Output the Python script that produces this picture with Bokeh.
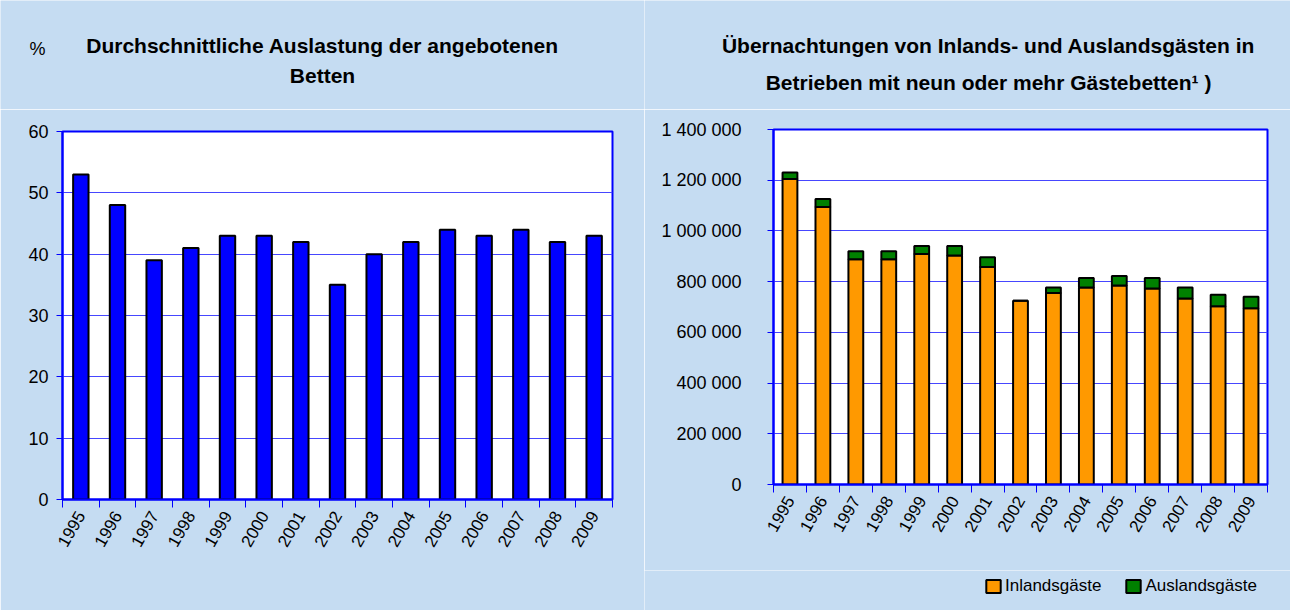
from math import radians
from bokeh.plotting import figure
from bokeh.models import (Range1d, LinearAxis, FixedTicker, Grid, ColumnDataSource, Label)
from bokeh.layouts import row, column
from bokeh.embed import file_html
from bokeh.resources import INLINE

# ---------------- data ----------------
years = [str(y) for y in range(1995, 2010)]
auslastung = [53, 48, 39, 41, 43, 43, 42, 35, 40, 42, 44, 43, 44, 42, 43]
inland = [1205000, 1094000, 888000, 888000, 909000, 903000, 858000, 725000,
          755000, 777000, 785000, 773000, 734000, 703000, 695000]
ausland = [25000, 32000, 32000, 32000, 32000, 38000, 38000, 0,
           22000, 37000, 37000, 41000, 43000, 45000, 45000]
left_ticks = [0, 10, 20, 30, 40, 50, 60]
right_ticks = [0, 200000, 400000, 600000, 800000, 1000000, 1200000, 1400000]
right_tick_labels = ["0", "200 000", "400 000", "600 000", "800 000",
                     "1 000 000", "1 200 000", "1 400 000"]
series_names = ["Inlandsgäste", "Auslandsgäste"]
left_title = ["Durchschnittliche Auslastung der angebotenen", "Betten"]
right_title = ["Übernachtungen von Inlands- und Auslandsgästen in",
               "Betrieben mit neun oder mehr Gästebetten¹ )"]
unit_label = "%"

# category slots: year i occupies [i, i+1] on the x scale
slot_centers = [i + 0.5 for i in range(len(years))]
slot_edges = list(range(len(years) + 1))

# ---------------- style ----------------
BG = "#C5DCF2"
BLUE = "#0000FF"
GRID = "#4646FF"
ORANGE = "#FF9900"
GREEN = "#008000"
FONT = "Liberation Sans"


def no_align(p):
    if "frame_align" in p.properties():
        p.frame_align = False


def hide_default_grids(p):
    for g in p.center:
        if isinstance(g, Grid):
            g.visible = False


def make_fig(width, height, y_range, bl, br, bt, bb):
    p = figure(width=width, height=height, x_range=Range1d(0, len(years)), y_range=y_range,
               x_axis_location=None, y_axis_location=None, toolbar_location=None,
               output_backend="svg", min_border_left=bl, min_border_right=br,
               min_border_top=bt, min_border_bottom=bb)
    no_align(p)
    hide_default_grids(p)
    p.border_fill_color = BG
    p.background_fill_color = "white"
    p.outline_line_color = BLUE
    p.outline_line_width = 2
    xa = LinearAxis(ticker=FixedTicker(ticks=slot_centers, minor_ticks=slot_edges),
                    major_label_overrides={c: y for c, y in zip(slot_centers, years)},
                    axis_line_color=BLUE, axis_line_width=2,
                    major_tick_line_color=None, major_tick_out=8, major_tick_in=0,
                    minor_tick_line_color=BLUE, minor_tick_out=8, minor_tick_in=0,
                    major_label_orientation=radians(60),
                    major_label_text_font=FONT, major_label_text_font_size="17px",
                    major_label_text_color="black", major_label_standoff=5)
    p.add_layout(xa, "below")
    return p


def make_strip(width, height):
    s = figure(width=width, height=height, x_range=Range1d(0, 1), y_range=Range1d(0, 1),
               x_axis_location=None, y_axis_location=None, toolbar_location=None,
               output_backend="svg", min_border=0)
    no_align(s)
    hide_default_grids(s)
    s.border_fill_color = BG
    s.background_fill_color = BG
    s.outline_line_color = None
    return s


def style_yaxis(ax, standoff):
    ax.major_tick_out = 6
    ax.major_tick_in = 0
    ax.minor_tick_line_color = None
    ax.axis_line_color = BLUE
    ax.axis_line_width = 2
    ax.major_tick_line_color = BLUE
    ax.major_label_text_font = FONT
    ax.major_label_text_font_size = "18px"
    ax.major_label_text_color = "black"
    ax.major_label_standoff = standoff


def title_label(x, y, txt, size="21px", bold=True):
    return Label(x=x, y=y, x_units="screen", y_units="screen", text=txt,
                 text_font=FONT, text_font_size=size,
                 text_font_style="bold" if bold else "normal",
                 text_align="center", text_baseline="middle", text_color="black")


# ---------------- left chart ----------------
t1 = make_strip(644, 109)
t1.add_layout(title_label(322, 64, left_title[0]))
t1.add_layout(title_label(322, 34, left_title[1]))
t1.add_layout(title_label(37, 61, unit_label, size="18px", bold=False))

p1 = make_fig(644, 501, Range1d(0, 60), 62, 32, 22, 111)
ya1 = LinearAxis(ticker=FixedTicker(ticks=left_ticks))
style_yaxis(ya1, 8)
p1.add_layout(ya1, "left")
p1.add_layout(Grid(dimension=1, ticker=FixedTicker(ticks=left_ticks), grid_line_color=GRID,
                   grid_line_width=1))
p1.vbar(x=slot_centers, top=auslastung, width=0.42, fill_color=BLUE, line_color="black",
        line_width=2)

# ---------------- right chart ----------------
t2 = make_strip(646, 109)
t2.add_layout(title_label(344, 64, right_title[0]))
t2.add_layout(title_label(344, 27, right_title[1]))

p2 = make_fig(646, 461, Range1d(0, 1400000), 129, 23, 20, 86)
ya2 = LinearAxis(ticker=FixedTicker(ticks=right_ticks),
                 major_label_overrides={t: l for t, l in zip(right_ticks, right_tick_labels)})
style_yaxis(ya2, 26)
p2.add_layout(ya2, "left")
p2.add_layout(Grid(dimension=1, ticker=FixedTicker(ticks=right_ticks), grid_line_color=GRID,
                   grid_line_width=1))
src = ColumnDataSource(dict(x=slot_centers, inland=inland, ausland=ausland))
p2.vbar_stack(["inland", "ausland"], x="x", width=0.45, source=src,
              fill_color=[ORANGE, GREEN], line_color="black", line_width=2)

# legend strip below the right chart (its keys use the same series styling)
l2 = make_strip(646, 40)
l2.vbar_stack(["inland", "ausland"], x="x", width=0.45, source=src,
              fill_color=[ORANGE, GREEN], line_color="black", line_width=2,
              legend_label=series_names, visible=False)
lg = l2.legend[0]
lg.orientation = "horizontal"
lg.location = (340, 14)
lg.background_fill_alpha = 0
lg.border_line_alpha = 0
lg.inactive_fill_alpha = 0
lg.padding = 0
lg.margin = 0
lg.spacing = 23
lg.glyph_width = 18
lg.glyph_height = 16
lg.label_standoff = 3
lg.label_text_font = FONT
lg.label_text_font_size = "17px"
lg.label_text_color = "black"

layout = row(column(t1, p1, spacing=0), column(t2, p2, l2, spacing=0), spacing=0)
open("out.html", "w").write(file_html(layout, INLINE))
